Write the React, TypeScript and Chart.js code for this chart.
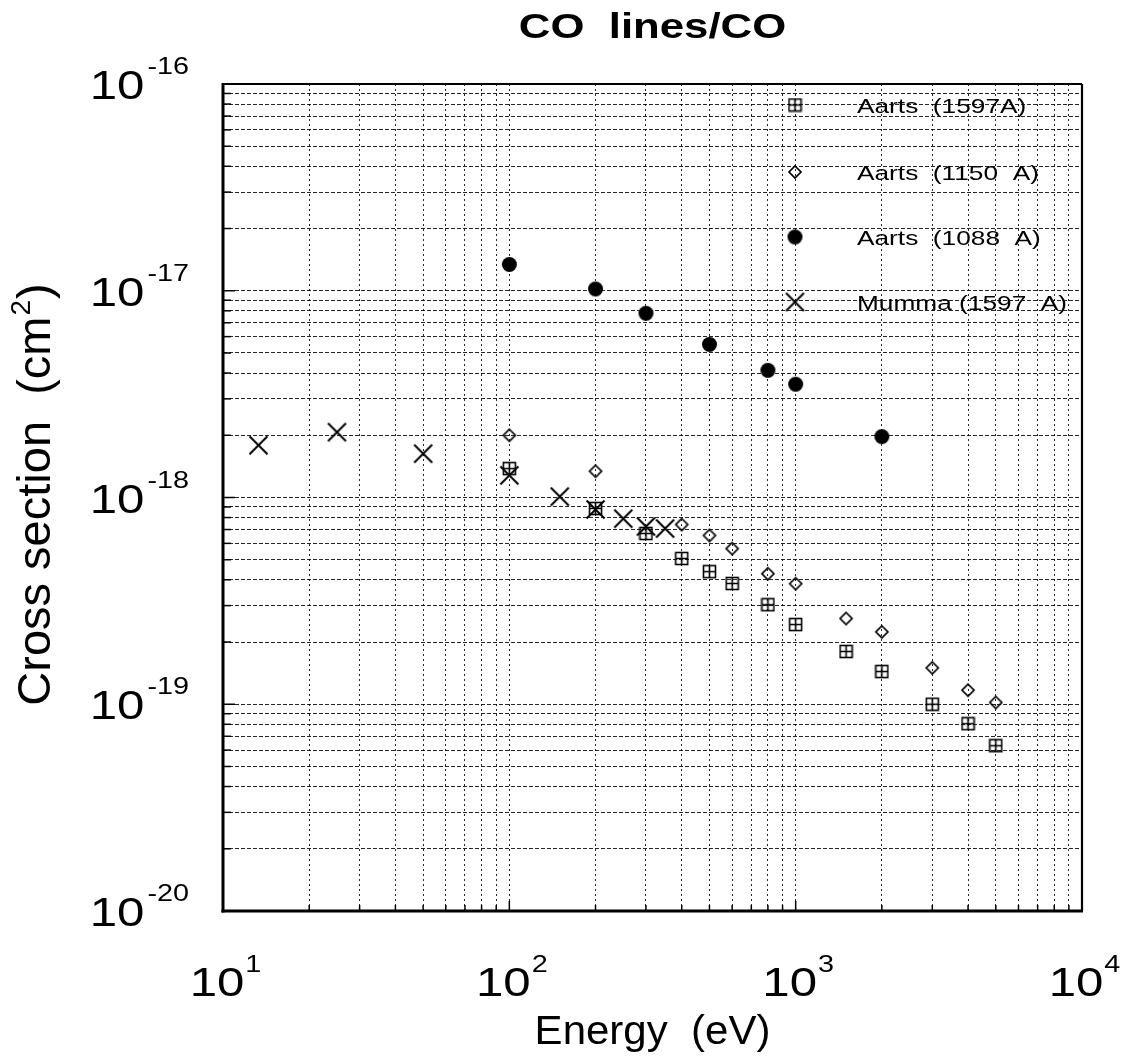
import React, { useEffect, useRef } from "react";
import { Chart, registerables } from "chart.js";

Chart.register(...registerables);

// ---------- data ----------
const aarts1597Energy = [100, 200, 300, 400, 500, 600, 800, 1000, 1500, 2000, 3000, 4000, 5000];
const aarts1597Sigma = [1.38e-18, 8.85e-19, 6.7e-19, 5.07e-19, 4.38e-19, 3.84e-19, 3.03e-19, 2.43e-19, 1.8e-19, 1.44e-19, 1.0e-19, 8.05e-20, 6.3e-20];

const aarts1150Energy = [100, 200, 400, 500, 600, 800, 1000, 1500, 2000, 3000, 4000, 5000];
const aarts1150Sigma = [2.0e-18, 1.34e-18, 7.4e-19, 6.55e-19, 5.66e-19, 4.28e-19, 3.83e-19, 2.6e-19, 2.24e-19, 1.5e-19, 1.17e-19, 1.02e-19];

const aarts1088Energy = [100, 200, 300, 500, 800, 1000, 2000];
const aarts1088Sigma = [1.34e-17, 1.02e-17, 7.78e-18, 5.5e-18, 4.12e-18, 3.53e-18, 1.97e-18];

const mummaEnergy = [13.3, 25, 50, 100, 150, 200, 250, 300, 350];
const mummaSigma = [1.79e-18, 2.07e-18, 1.63e-18, 1.28e-18, 1.01e-18, 8.75e-19, 7.9e-19, 7.24e-19, 7.08e-19];

const seriesLabels = ["Aarts  (1597A)", "Aarts  (1150  A)", "Aarts  (1088  A)", "Mumma (1597  A)"];

const xTickExponents = [1, 2, 3, 4];
const yTickExponents = [-16, -17, -18, -19, -20];
const minorMultipliers = [1, 2, 3, 4, 5, 6, 7, 8, 9];

const chartTitle = "CO  lines/CO";
const xAxisTitle = "Energy  (eV)";
const yAxisTitleMain = "Cross section  (cm";
const yAxisTitleSup = "2";
const yAxisTitleEnd = ")";

const FONT = "'Liberation Sans', Arial, Helvetica, sans-serif";

// ---------- markers ----------
function makeSquarePlus(): HTMLCanvasElement {
  const c = document.createElement("canvas");
  c.width = 15; c.height = 15;
  const g = c.getContext("2d")!;
  g.strokeStyle = "#000"; g.lineWidth = 1.6;
  g.strokeRect(1.5, 1.5, 12, 12);
  g.beginPath();
  g.moveTo(7.5, 1.5); g.lineTo(7.5, 13.5);
  g.moveTo(1.5, 7.5); g.lineTo(13.5, 7.5);
  g.stroke();
  return c;
}
function makeDiamond(): HTMLCanvasElement {
  const c = document.createElement("canvas");
  c.width = 16; c.height = 16;
  const g = c.getContext("2d")!;
  g.strokeStyle = "#000"; g.lineWidth = 1.7;
  g.beginPath();
  g.moveTo(8, 2); g.lineTo(14, 8); g.lineTo(8, 14); g.lineTo(2, 8); g.closePath();
  g.stroke();
  return c;
}
function makeCircle(): HTMLCanvasElement {
  const c = document.createElement("canvas");
  c.width = 17; c.height = 17;
  const g = c.getContext("2d")!;
  g.fillStyle = "#000";
  g.beginPath(); g.arc(8.5, 8.5, 7.5, 0, Math.PI * 2); g.fill();
  return c;
}
function makeX(): HTMLCanvasElement {
  const c = document.createElement("canvas");
  c.width = 21; c.height = 21;
  const g = c.getContext("2d")!;
  g.strokeStyle = "#000"; g.lineWidth = 2;
  g.beginPath();
  g.moveTo(1.5, 1.5); g.lineTo(19.5, 19.5);
  g.moveTo(19.5, 1.5); g.lineTo(1.5, 19.5);
  g.stroke();
  return c;
}

function drawStretched(ctx: CanvasRenderingContext2D, text: string, x: number, y: number, font: string, sx: number, align: "left" | "right" | "center") {
  ctx.save();
  ctx.font = font;
  const w = ctx.measureText(text).width * sx;
  let left = x;
  if (align === "right") left = x - w;
  else if (align === "center") left = x - w / 2;
  ctx.translate(left, y);
  ctx.scale(sx, 1);
  ctx.textAlign = "left";
  ctx.textBaseline = "alphabetic";
  ctx.fillStyle = "#000";
  ctx.fillText(text, 0, 0);
  ctx.restore();
  return w;
}
function measure(ctx: CanvasRenderingContext2D, text: string, font: string, sx: number) {
  ctx.save();
  ctx.font = font;
  const w = ctx.measureText(text).width * sx;
  ctx.restore();
  return w;
}

const BASE_FONT = `41px ${FONT}`;
const SUP_FONT = `24px ${FONT}`;
const SX = 1.2;

export default function App() {
  const ref = useRef<HTMLCanvasElement>(null);
  useEffect(() => {
    document.body.style.margin = "0";
    const canvas = ref.current!;
    const markers = [makeSquarePlus(), makeDiamond(), makeCircle(), makeX()];

    const toPts = (xs: number[], ys: number[]) => xs.map((x, i) => ({ x, y: ys[i] }));

    const buildTicks = (exps: number[], top: number) => {
      const out: { value: number }[] = [];
      exps.forEach((e) => minorMultipliers.forEach((m) => out.push({ value: m * Math.pow(10, e) })));
      out.push({ value: Math.pow(10, top) });
      return out;
    };

    const decoration = {
      id: "decoration",
      afterDraw(chart: any) {
        const ctx: CanvasRenderingContext2D = chart.ctx;
        const a = chart.chartArea;
        const xs = chart.scales.x;
        const ys = chart.scales.y;
        ctx.save();
        ctx.strokeStyle = "#000";
        ctx.setLineDash([]);
        // inward ticks
        ctx.lineWidth = 1.5;
        ys.ticks.forEach((t: any) => {
          const p = ys.getPixelForValue(t.value);
          const major = Math.abs(Math.log10(t.value) - Math.round(Math.log10(t.value))) < 1e-6;
          ctx.beginPath(); ctx.moveTo(a.left, p); ctx.lineTo(a.left + (major ? 12 : 8), p); ctx.stroke();
        });
        xs.ticks.forEach((t: any) => {
          const p = xs.getPixelForValue(t.value);
          const major = Math.abs(Math.log10(t.value) - Math.round(Math.log10(t.value))) < 1e-6;
          ctx.beginPath(); ctx.moveTo(p, a.bottom); ctx.lineTo(p, a.bottom - (major ? 10 : 6)); ctx.stroke();
        });
        // frame
        ctx.lineWidth = 3;
        ctx.beginPath(); ctx.moveTo(a.left, a.top - 1); ctx.lineTo(a.left, a.bottom + 1.5); ctx.stroke();
        ctx.beginPath(); ctx.moveTo(a.left - 1.5, a.bottom); ctx.lineTo(a.right + 1, a.bottom); ctx.stroke();
        ctx.lineWidth = 2.2;
        ctx.beginPath(); ctx.moveTo(a.left, a.top); ctx.lineTo(a.right, a.top); ctx.stroke();
        ctx.beginPath(); ctx.moveTo(a.right, a.top); ctx.lineTo(a.right, a.bottom); ctx.stroke();

        // y tick labels
        yTickExponents.forEach((e) => {
          const yc = ys.getPixelForValue(Math.pow(10, e));
          const sup = String(e);
          const R = a.left - 34;
          const supW = measure(ctx, sup, SUP_FONT, SX);
          const supLeft = R - supW;
          drawStretched(ctx, sup, supLeft, yc - 10, SUP_FONT, SX, "left");
          drawStretched(ctx, "10", supLeft - 3, yc + 15, BASE_FONT, SX, "right");
        });
        // x tick labels
        xTickExponents.forEach((e) => {
          const xc = xs.getPixelForValue(Math.pow(10, e));
          const sup = String(e);
          const bw = measure(ctx, "10", BASE_FONT, SX);
          const sw = measure(ctx, sup, SUP_FONT, SX);
          const left = xc - (bw + sw) / 2 + 2;
          drawStretched(ctx, "10", left, a.bottom + 85, BASE_FONT, SX, "left");
          drawStretched(ctx, sup, left + bw + 1, a.bottom + 61, SUP_FONT, SX, "left");
        });
        // title
        drawStretched(ctx, chartTitle, (a.left + a.right) / 2, 38, `bold 35px ${FONT}`, 1.25, "center");
        // x axis title
        drawStretched(ctx, xAxisTitle, (a.left + a.right) / 2, a.bottom + 133, `40px ${FONT}`, 1.05, "center");
        // y axis title rotated
        ctx.save();
        ctx.translate(50, (a.top + a.bottom) / 2 - 2);
        ctx.rotate(-Math.PI / 2);
        const mainF = `47px ${FONT}`;
        const supF = `28px ${FONT}`;
        const w1 = measure(ctx, yAxisTitleMain, mainF, 1);
        const w2 = measure(ctx, yAxisTitleSup, supF, 1);
        const w3 = measure(ctx, yAxisTitleEnd, mainF, 1);
        let lx = -(w1 + w2 + w3) / 2;
        drawStretched(ctx, yAxisTitleMain, lx, 0, mainF, 1, "left");
        lx += w1;
        drawStretched(ctx, yAxisTitleSup, lx + 1, -20, supF, 1, "left");
        lx += w2 + 2;
        drawStretched(ctx, yAxisTitleEnd, lx, 0, mainF, 1, "left");
        ctx.restore();

        // legend
        const legendMarkerX = a.left + 572;
        const legendTextX = a.left + 634;
        const rowY = [105, 172, 237, 302];
        seriesLabels.forEach((lab, i) => {
          const m = markers[i];
          const yy = rowY[i];
          ctx.drawImage(m, legendMarkerX - m.width / 2, yy - m.height / 2);
          drawStretched(ctx, lab, legendTextX, yy + 8, `21px ${FONT}`, 1.25, "left");
        });
        ctx.restore();
      },
    };

    const gridCommon = {
      color: "rgba(0,0,0,0.85)",
      lineWidth: 1,
      drawTicks: false,
    };

    const chart = new Chart(canvas, {
      type: "scatter",
      data: {
        datasets: [
          { label: seriesLabels[0], data: toPts(aarts1597Energy, aarts1597Sigma), pointStyle: markers[0] as any, pointRadius: 7 },
          { label: seriesLabels[1], data: toPts(aarts1150Energy, aarts1150Sigma), pointStyle: markers[1] as any, pointRadius: 7 },
          { label: seriesLabels[2], data: toPts(aarts1088Energy, aarts1088Sigma), pointStyle: markers[2] as any, pointRadius: 8 },
          { label: seriesLabels[3], data: toPts(mummaEnergy, mummaSigma), pointStyle: markers[3] as any, pointRadius: 10 },
        ],
      },
      options: {
        animation: false,
        responsive: false,
        devicePixelRatio: 1,
        events: [],
        layout: { padding: { left: 223, top: 84, right: 39, bottom: 148 } },
        plugins: { legend: { display: false }, tooltip: { enabled: false }, title: { display: false } },
        scales: {
          x: {
            type: "logarithmic",
            min: 10,
            max: 10000,
            afterBuildTicks: (scale: any) => { scale.ticks = buildTicks([1, 2, 3], 4); },
            ticks: { display: false },
            border: { display: false, dash: [2, 3] },
            grid: { ...gridCommon },
            title: { display: false },
          },
          y: {
            type: "logarithmic",
            min: 1e-20,
            max: 1e-16,
            afterBuildTicks: (scale: any) => { scale.ticks = buildTicks([-20, -19, -18, -17], -16); },
            ticks: { display: false },
            border: { display: false, dash: [4, 2] },
            grid: { ...gridCommon },
            title: { display: false },
          },
        },
      },
      plugins: [decoration],
    } as any);
    return () => chart.destroy();
  }, []);

  return (
    <div style={{ position: "absolute", left: 0, top: 0, width: 1121, height: 1059, background: "#fff" }}>
      <canvas ref={ref} width={1121} height={1059} style={{ width: 1121, height: 1059, display: "block" }} />
    </div>
  );
}
